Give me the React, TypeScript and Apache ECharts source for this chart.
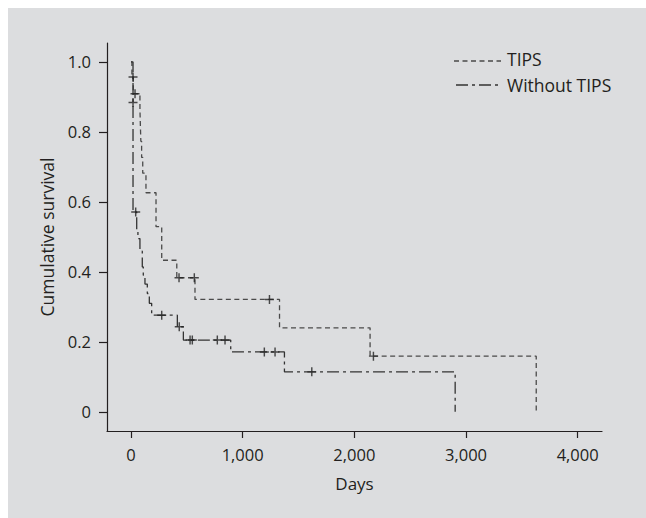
import React, { useEffect, useRef } from "react";
import * as echarts from "echarts";

// Kaplan-Meier step points (day, survival after the step)
const tipsDays = [0, 8, 20, 80, 84, 88, 95, 105, 134, 224, 275, 410, 573, 1330, 2141, 3629];
const tipsSurv = [1.0, 0.955, 0.909, 0.864, 0.818, 0.773, 0.727, 0.682, 0.626, 0.529, 0.433, 0.383, 0.321, 0.24, 0.159, 0];
const tipsCensorDays = [36, 430, 567, 1240, 2171];
const tipsCensorSurv = [0.909, 0.383, 0.383, 0.321, 0.159];

const noTipsDays = [0, 18, 51, 62, 80, 101, 110, 125, 146, 164, 185, 415, 469, 893, 1374, 2903];
const noTipsSurv = [1.0, 0.571, 0.52, 0.495, 0.459, 0.414, 0.39, 0.365, 0.338, 0.31, 0.276, 0.243, 0.205, 0.171, 0.114, 0];
const noTipsCensorDays = [18, 18, 42, 275, 432, 529, 549, 773, 842, 1194, 1290, 1619];
const noTipsCensorSurv = [0.957, 0.884, 0.571, 0.276, 0.243, 0.205, 0.205, 0.205, 0.205, 0.171, 0.171, 0.114];

const xTicks = [0, 1000, 2000, 3000, 4000];
const yTicks = [0, 0.2, 0.4, 0.6, 0.8, 1.0];
const seriesNames = ["TIPS", "Without TIPS"];

const BG = "#dcdddf";
const INK = "#231f20";
const FONT = "'Open Sans', 'Noto Sans', sans-serif";
const PLUS = "path://M4.2,0H5.8V4.2H10V5.8H5.8V10H4.2V5.8H0V4.2H4.2Z";
const TIPS_DASH = [5, 3.5];
const NOTIPS_DASH = [12, 4, 3, 4];

const zip = (a: number[], b: number[]) => a.map((v, i) => [v, b[i]]);

export default function App() {
  const ref = useRef<HTMLDivElement>(null);
  useEffect(() => {
    if (!ref.current) return;
    const chart = echarts.init(ref.current, null, { renderer: "svg" });
    chart.setOption({
      animation: false,
      backgroundColor: BG,
      textStyle: { fontFamily: FONT },
      grid: { left: 99, right: 44, top: 35, bottom: 87, containLabel: false },
      xAxis: {
        type: "value",
        min: -215,
        max: 4218,
        name: "Days",
        nameLocation: "middle",
        nameGap: 44,
        nameTextStyle: { fontSize: 17, color: INK, fontFamily: FONT },
        axisLine: { show: true, onZero: false, lineStyle: { color: INK, width: 1.2 } },
        axisTick: { show: true, length: 7, customValues: xTicks, lineStyle: { color: INK, width: 1.2 } },
        axisLabel: {
          customValues: xTicks,
          margin: 15,
          fontSize: 16.5,
          color: INK,
          fontFamily: FONT,
          formatter: (v: number) => v.toLocaleString("en-US"),
        },
        splitLine: { show: false },
      },
      yAxis: {
        type: "value",
        min: -0.055,
        max: 1.054,
        name: "Cumulative survival",
        nameLocation: "middle",
        nameGap: 51,
        nameTextStyle: { fontSize: 17.5, color: INK, fontFamily: FONT },
        axisLine: { show: true, onZero: false, lineStyle: { color: INK, width: 1.2 } },
        axisTick: { show: true, length: 8, customValues: yTicks, lineStyle: { color: INK, width: 1.2 } },
        axisLabel: {
          customValues: yTicks,
          margin: 16,
          fontSize: 16.5,
          color: INK,
          fontFamily: FONT,
          formatter: (v: number) => (v === 0 ? "0" : v.toFixed(1)),
        },
        splitLine: { show: false },
      },
      series: [
        {
          name: seriesNames[0],
          type: "line",
          step: "end",
          symbol: "none",
          data: zip(tipsDays, tipsSurv),
          lineStyle: { color: "#4a4a4a", width: 1.3, type: TIPS_DASH },
          z: 2,
        },
        {
          name: seriesNames[1],
          type: "line",
          step: "end",
          symbol: "none",
          data: zip(noTipsDays, noTipsSurv),
          lineStyle: { color: "#333", width: 1.3, type: NOTIPS_DASH },
          z: 2,
        },
        {
          type: "scatter",
          symbol: PLUS,
          symbolSize: 9,
          data: zip(tipsCensorDays, tipsCensorSurv),
          itemStyle: { color: "#222" },
          z: 3,
        },
        {
          type: "scatter",
          symbol: PLUS,
          symbolSize: 9,
          data: zip(noTipsCensorDays, noTipsCensorSurv),
          itemStyle: { color: "#222" },
          z: 3,
        },
      ],
      graphic: [
        {
          type: "line",
          shape: { x1: 446, y1: 53, x2: 493, y2: 53 },
          style: { stroke: "#4a4a4a", lineWidth: 1.3, lineDash: TIPS_DASH },
        },
        {
          type: "line",
          shape: { x1: 448, y1: 77, x2: 493, y2: 77 },
          style: { stroke: "#333", lineWidth: 1.3, lineDash: NOTIPS_DASH },
        },
        {
          type: "text",
          x: 499,
          y: 51,
          style: { text: seriesNames[0], fontSize: 17.5, fill: INK, fontFamily: FONT, verticalAlign: "middle" },
        },
        {
          type: "text",
          x: 499,
          y: 77,
          style: { text: seriesNames[1], fontSize: 17.5, fill: INK, fontFamily: FONT, verticalAlign: "middle" },
        },
      ],
    });
    return () => chart.dispose();
  }, []);
  return (
    <div
      ref={ref}
      style={{ position: "fixed", left: 8, top: 8, width: 638, height: 510, background: BG }}
    />
  );
}
